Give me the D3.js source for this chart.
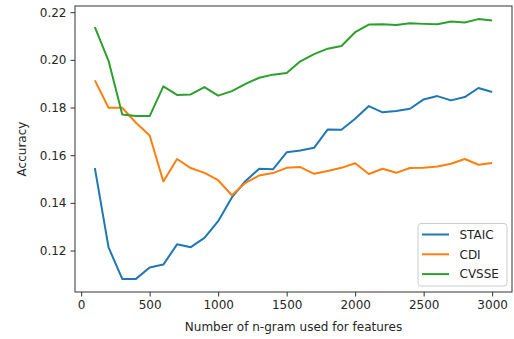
<!DOCTYPE html>
<html>
<head>
<meta charset="utf-8">
<script src="https://cdn.jsdelivr.net/npm/d3@7"></script>
<style>
  body { margin: 0; background: #fff; }
  text { font-family: "DejaVu Sans", sans-serif; fill: #262626; }
</style>
</head>
<body>
<div id="chart"></div>
<script>
// n-gram counts on the x axis
const features = d3.range(100, 3001, 100);

const staic = [0.1546, 0.1213, 0.1081, 0.1081, 0.1129, 0.1141, 0.1226, 0.1214, 0.1253, 0.1323,
  0.1423, 0.1492, 0.1543, 0.1541, 0.1612, 0.1620, 0.1631, 0.1708, 0.1707, 0.1753,
  0.1806, 0.1780, 0.1785, 0.1795, 0.1834, 0.1848, 0.1830, 0.1844, 0.1882, 0.1865];
const cdi = [0.1914, 0.1799, 0.1799, 0.1736, 0.1683, 0.1490, 0.1584, 0.1546, 0.1526, 0.1495,
  0.1432, 0.1484, 0.1515, 0.1525, 0.1547, 0.1550, 0.1522, 0.1534, 0.1547, 0.1566,
  0.1521, 0.1543, 0.1526, 0.1546, 0.1547, 0.1553, 0.1564, 0.1584, 0.1560, 0.1567];
const cvsse = [0.2137, 0.1996, 0.1771, 0.1764, 0.1764, 0.1889, 0.1853, 0.1855, 0.1886, 0.1850,
  0.1869, 0.1899, 0.1925, 0.1938, 0.1945, 0.1994, 0.2024, 0.2047, 0.2058, 0.2116,
  0.2148, 0.2149, 0.2146, 0.2154, 0.2151, 0.2149, 0.2161, 0.2157, 0.2171, 0.2165];

const seriesNames = ["STAIC", "CDI", "CVSSE"];
const seriesColors = ["#1f77b4", "#ff7f0e", "#2ca02c"];
const xTicks = [0, 500, 1000, 1500, 2000, 2500, 3000];
const yTicks = [0.12, 0.14, 0.16, 0.18, 0.20, 0.22];

const series = [staic, cdi, cvsse].map((vals, i) => ({
  name: seriesNames[i],
  color: seriesColors[i],
  values: vals.map((v, j) => ({x: features[j], y: v}))
}));

const W = 514, H = 339;
const margin = {top: 6, right: 2, bottom: 47, left: 75};
const width = W - margin.left - margin.right;
const height = H - margin.top - margin.bottom;

const svg = d3.select("#chart").append("svg")
    .attr("width", W)
    .attr("height", H);
const g = svg.append("g")
    .attr("transform", `translate(${margin.left},${margin.top})`);

// matplotlib style 5% padding
const x = d3.scaleLinear().domain([-45, 3145]).range([0, width]);
const y = d3.scaleLinear().domain([0.1026, 0.2226]).range([height, 0]);

const xAxis = g.append("g")
    .attr("transform", `translate(0,${height})`)
    .call(d3.axisBottom(x).tickValues(xTicks).tickSize(4.5).tickPadding(4).tickFormat(d3.format("d")));
const yAxis = g.append("g")
    .call(d3.axisLeft(y).tickValues(yTicks).tickSize(4.5).tickPadding(4).tickFormat(d3.format(".2f")));

[xAxis, yAxis].forEach((a) => {
  a.select(".domain").remove();
  a.selectAll("line").attr("stroke", "#333").attr("stroke-width", 1);
  a.selectAll("text").style("font-size", "12px").attr("fill", "#262626");
});

// frame
g.append("rect")
    .attr("width", width)
    .attr("height", height)
    .attr("fill", "none")
    .attr("stroke", "#333")
    .attr("stroke-width", 1);

const line = d3.line().x((d) => x(d.x)).y((d) => y(d.y));

g.selectAll(".series")
    .data(series)
    .enter()
    .append("path")
    .attr("class", "series")
    .attr("d", (d) => line(d.values))
    .attr("fill", "none")
    .attr("stroke", (d) => d.color)
    .attr("stroke-width", 2)
    .attr("stroke-linejoin", "round");

// axis labels
svg.append("text")
    .attr("x", margin.left + width / 2)
    .attr("y", H - 8)
    .attr("text-anchor", "middle")
    .style("font-size", "12px")
    .text("Number of n-gram used for features");

svg.append("text")
    .attr("transform", `translate(26,${margin.top + height / 2}) rotate(-90)`)
    .attr("text-anchor", "middle")
    .style("font-size", "12px")
    .text("Accuracy");

// legend
const legend = g.append("g")
    .attr("transform", `translate(${width - 89 - 5},${height - 62.5 - 6})`);
legend.append("rect")
    .attr("width", 89)
    .attr("height", 62.5)
    .attr("rx", 3)
    .attr("fill", "#fff")
    .attr("fill-opacity", 0.8)
    .attr("stroke", "#ccc");
const items = legend.selectAll(".item")
    .data(series)
    .enter()
    .append("g")
    .attr("class", "item")
    .attr("transform", (d, i) => `translate(0,${11 + i * 19.8})`);
items.append("line")
    .attr("x1", 4)
    .attr("x2", 31)
    .attr("stroke", (d) => d.color)
    .attr("stroke-width", 2);
items.append("text")
    .attr("x", 41.5)
    .attr("dy", "0.35em")
    .style("font-size", "12px")
    .text((d) => d.name);
</script>
</body>
</html>
